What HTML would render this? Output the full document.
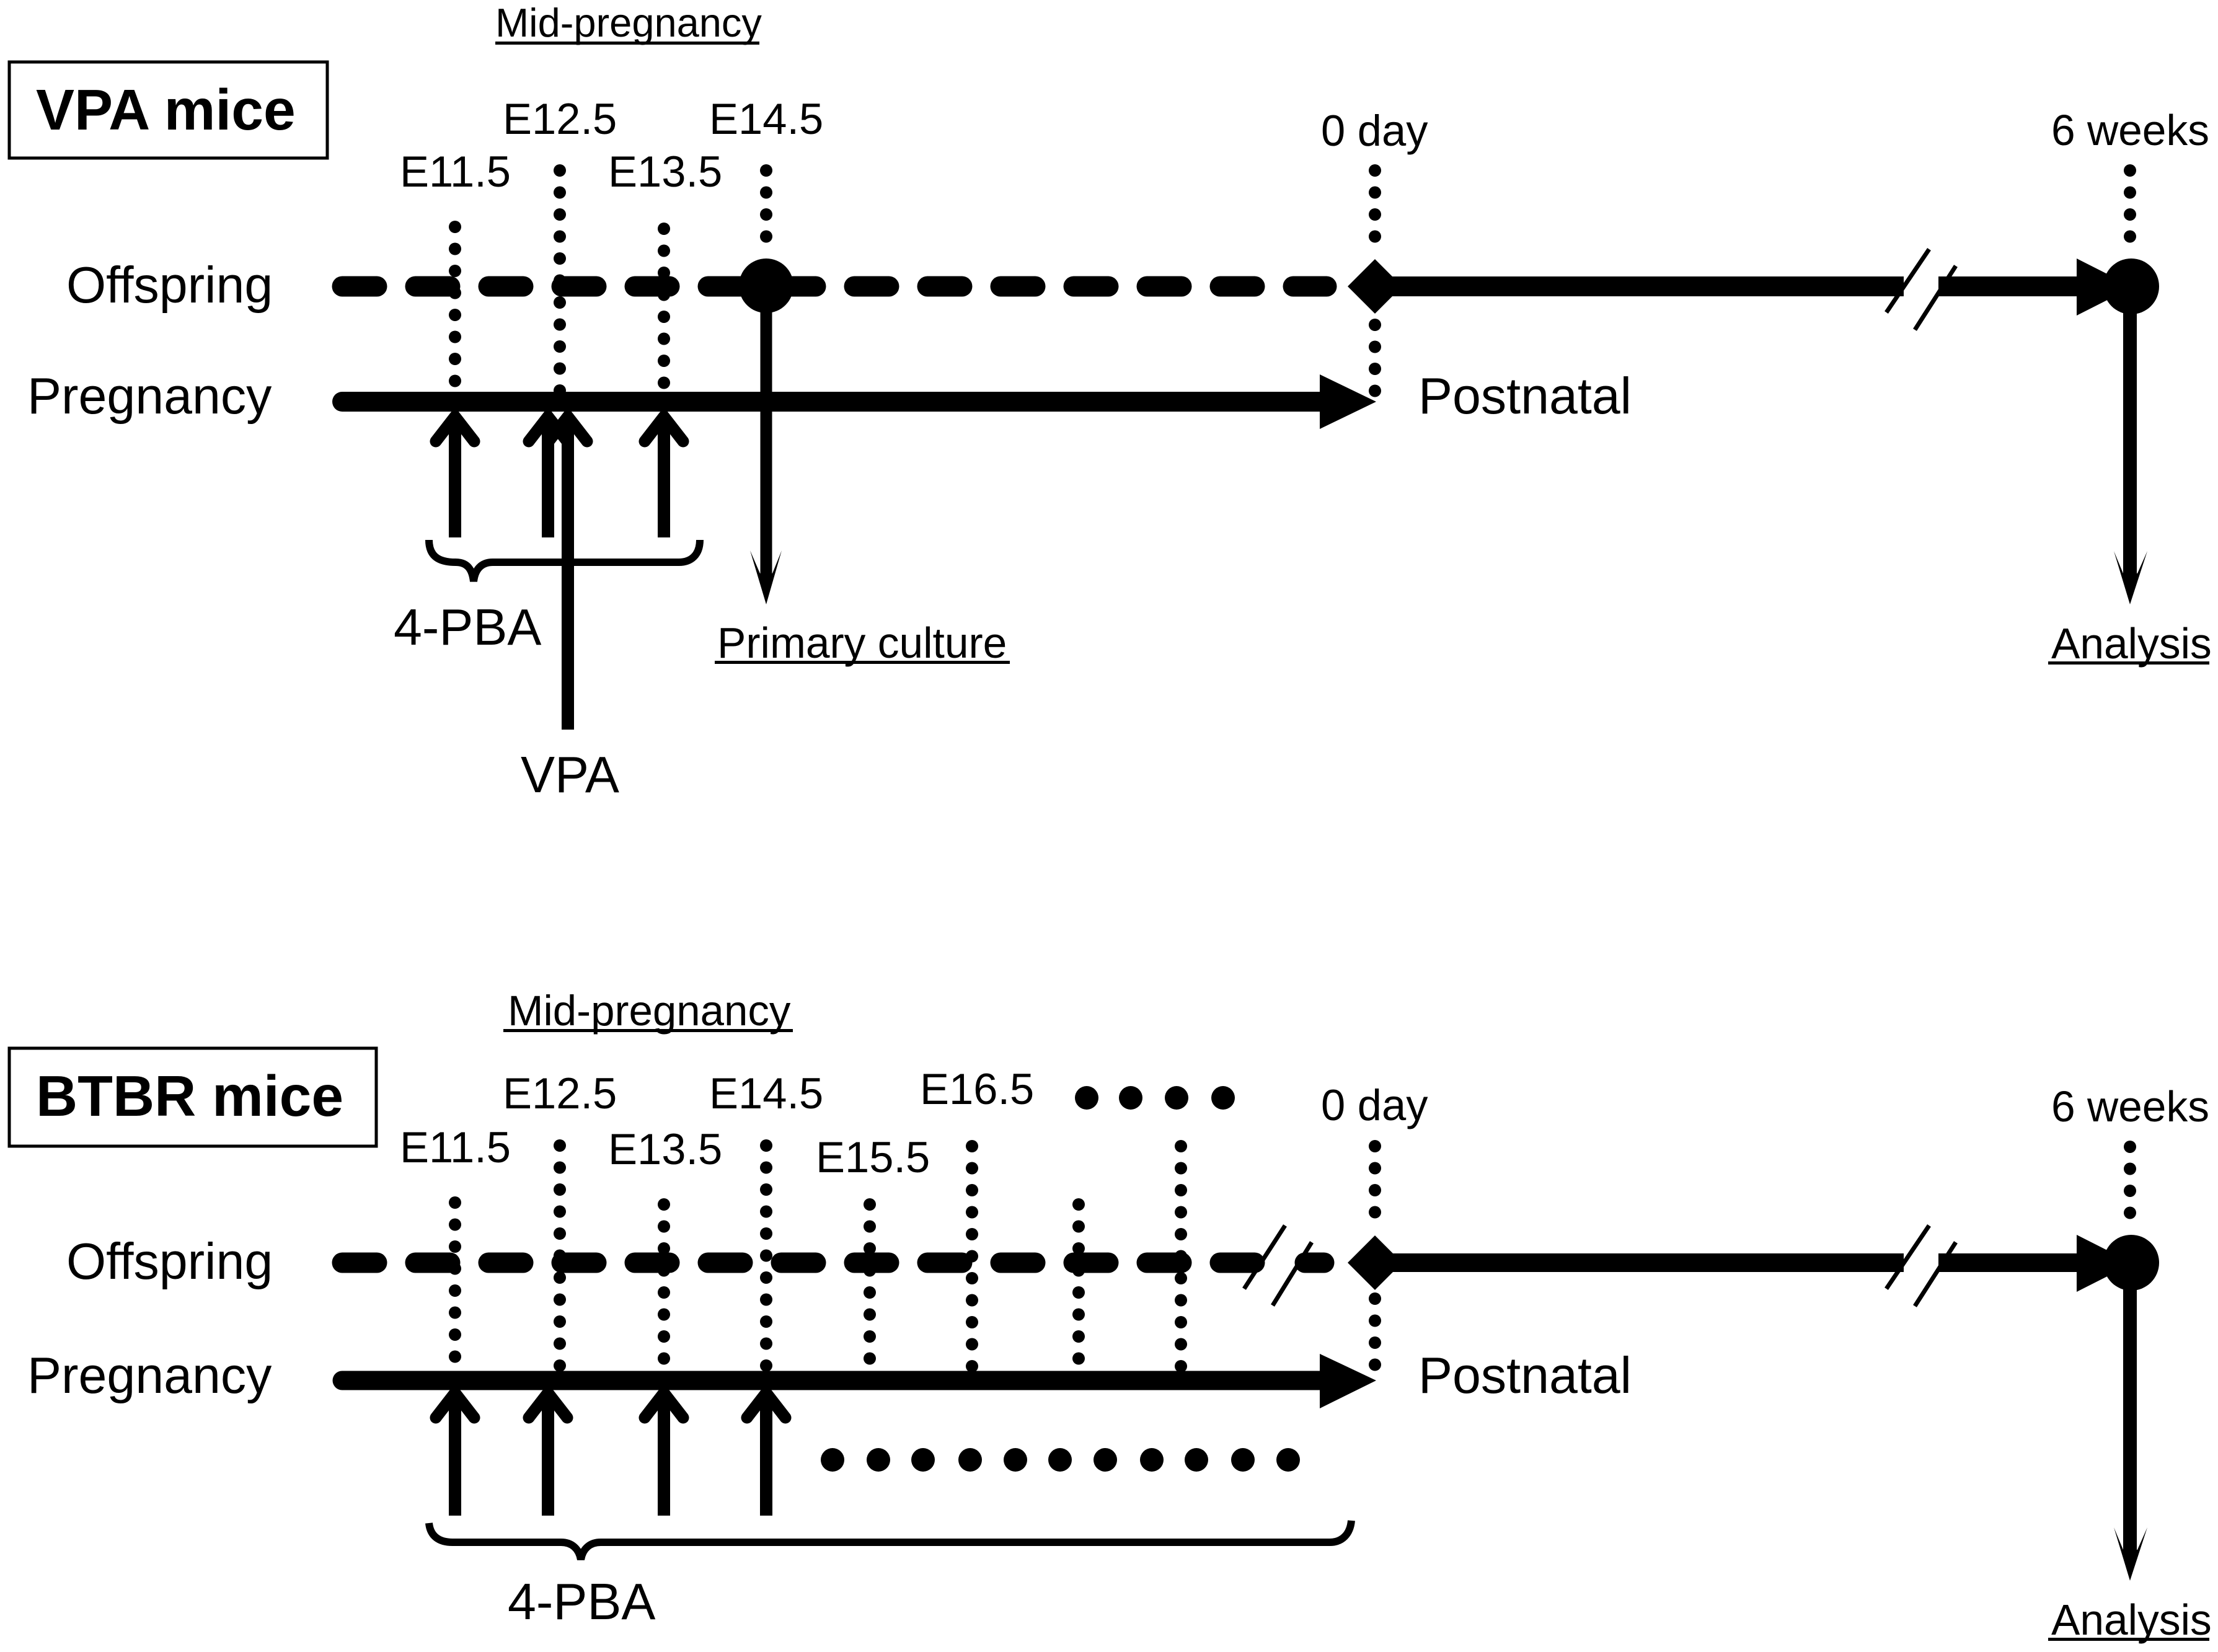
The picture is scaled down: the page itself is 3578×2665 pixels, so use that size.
<!DOCTYPE html>
<html><head><meta charset="utf-8"><style>
html,body{margin:0;padding:0;background:#fff}
svg{display:block}
text{font-family:"Liberation Sans",Arial,sans-serif;fill:#000}
.b{font-weight:bold;font-size:93px}
.m{font-size:70.5px}
.l{font-size:82.5px}
.dot{stroke:#000;stroke-width:20;stroke-linecap:round;stroke-dasharray:0 35.5;fill:none}
.dash{stroke:#000;stroke-width:33;stroke-linecap:round;fill:none}
.s{stroke:#000;fill:none}
.up{stroke:#000;stroke-width:20;fill:none}
.wing{stroke:#000;stroke-width:19;stroke-linecap:round;stroke-linejoin:miter;fill:none}
.br{stroke:#000;stroke-width:12;fill:none}
.sl{stroke:#000;stroke-width:7;fill:none}
</style></head><body>
<svg width="3578" height="2665" viewBox="0 0 3578 2665" xmlns="http://www.w3.org/2000/svg">
<rect width="3578" height="2665" fill="#fff"/>

<!-- VPA panel -->
<rect x="15" y="100" width="513" height="155" fill="none" stroke="#000" stroke-width="5"/>
<text class="b" x="58" y="209">VPA mice</text>
<text x="799" y="59" font-size="65">Mid-pregnancy</text>
<rect x="799" y="67" width="426" height="5"/>
<text class="m" x="811" y="216">E12.5</text>
<text class="m" x="1144" y="216">E14.5</text>
<text class="m" x="645" y="301">E11.5</text>
<text class="m" x="981" y="301">E13.5</text>
<text class="m" x="2131" y="235">0 day</text>
<text x="3309" y="234" font-size="69.5">6 weeks</text>
<text class="l" x="107" y="488">Offspring</text>
<text class="l" x="44" y="667">Pregnancy</text>
<text class="l" x="2288" y="667">Postnatal</text>
<text class="l" x="635" y="1040">4-PBA</text>
<text class="l" x="840" y="1278">VPA</text>
<text x="1157" y="1061" font-size="69.5">Primary culture</text>
<rect x="1153" y="1066" width="476" height="5"/>
<text x="3309" y="1062" font-size="69.5">Analysis</text>
<rect x="3304" y="1067" width="260" height="5"/>

<path class="dash" stroke-dasharray="56 62" d="M552 462H2140"/>
<path class="s" stroke-width="32" d="M2218 462H3071M3127 462H3360"/>
<path class="s" stroke-width="32" stroke-linecap="round" d="M552 648H2140"/>
<polygon points="2129,604 2220,648 2129,692"/>
<polygon points="3350,417 3441,463 3350,509"/>
<polygon points="2218,418 2262,462 2218,506 2174,462"/>
<circle cx="1236" cy="461" r="44"/>
<circle cx="3438" cy="462" r="45"/>
<path class="sl" d="M3112 402L3043 504M3155 429L3089 532"/>

<path class="dot" d="M734 366V620"/>
<path class="dot" d="M903 275V635"/>
<path class="dot" d="M1071 369V625"/>
<path class="dot" d="M1236 275V400"/>
<path class="dot" d="M2218 275V415"/>
<path class="dot" d="M2218 524V640"/>
<path class="dot" d="M3436 275V395"/>

<path class="up" d="M734 670V867M884 670V867M1071 670V867M916 670V1177"/>
<path class="wing" d="M703 712L734 672L765 712"/>
<path class="wing" d="M853 712L884 672L915 712"/>
<path class="wing" d="M885 712L916 672L947 712"/>
<path class="wing" d="M1040 712L1071 672L1102 712"/>
<path class="s" stroke-width="19" d="M1236 500V930"/>
<polygon points="1210,888 1226,925 1246,925 1261,888 1236,975"/>
<path class="s" stroke-width="22" d="M3436 500V930"/>
<polygon points="3410,889 3425,925 3448,925 3464,889 3436,975"/>
<path class="br" d="M692 871C692 895 705 907 735 907C755 907 762 920 764 938C766 920 775 907 795 907H1095C1115 907 1129 895 1129 871"/>

<!-- BTBR panel -->
<rect x="15" y="1691" width="592" height="158" fill="none" stroke="#000" stroke-width="5"/>
<text class="b" x="58" y="1800">BTBR mice</text>
<text x="819" y="1654" font-size="69">Mid-pregnancy</text>
<rect x="812" y="1660" width="467" height="5"/>
<text class="m" x="811" y="1788">E12.5</text>
<text class="m" x="1144" y="1788">E14.5</text>
<text class="m" x="645" y="1875">E11.5</text>
<text class="m" x="981" y="1878">E13.5</text>
<text class="m" x="1316" y="1891">E15.5</text>
<text class="m" x="1484" y="1781">E16.5</text>
<text class="m" x="2131" y="1807">0 day</text>
<text x="3309" y="1809" font-size="69.5">6 weeks</text>
<text class="l" x="107" y="2063">Offspring</text>
<text class="l" x="44" y="2247">Pregnancy</text>
<text class="l" x="2288" y="2247">Postnatal</text>
<text class="l" x="819" y="2612">4-PBA</text>
<text x="3309" y="2637" font-size="69.5">Analysis</text>
<rect x="3304" y="2642" width="260" height="5"/>

<path class="dash" stroke-dasharray="56 62" d="M552 2037H2025"/>
<path class="dash" d="M2105 2037H2136"/>
<path class="s" stroke-width="30" d="M2218 2037H3071M3127 2037H3360"/>
<path class="s" stroke-width="31" stroke-linecap="round" d="M552 2227H2140"/>
<polygon points="2129,2184 2220,2227 2129,2272"/>
<polygon points="3350,1992 3441,2038 3350,2084"/>
<polygon points="2218,1993 2262,2037 2218,2081 2174,2037"/>
<circle cx="3438" cy="2037" r="45"/>
<path class="sl" d="M3112 1977L3043 2079M3155 2004L3089 2107"/>
<path class="sl" d="M2073 1977L2007 2079M2116 2004L2053 2106"/>

<path class="dot" d="M734 1940V2195"/>
<path class="dot" d="M903 1848V2210"/>
<path class="dot" d="M1071 1943V2200"/>
<path class="dot" d="M1236 1848V2210"/>
<path class="dot" d="M1403 1943V2200"/>
<path class="dot" d="M1568 1849V2210"/>
<path class="dot" d="M1740 1943V2200"/>
<path class="dot" d="M1905 1849V2210"/>
<path class="dot" d="M2218 1849V1990"/>
<path class="dot" d="M2218 2095V2210"/>
<path class="dot" d="M3436 1850V1970"/>

<path class="up" d="M734 2245V2445M884 2245V2445M1071 2245V2445M1236 2245V2445"/>
<path class="wing" d="M703 2287L734 2247L765 2287"/>
<path class="wing" d="M853 2287L884 2247L915 2287"/>
<path class="wing" d="M1040 2287L1071 2247L1102 2287"/>
<path class="wing" d="M1205 2287L1236 2247L1267 2287"/>
<path class="s" stroke-width="22" d="M3436 2070V2505"/>
<polygon points="3410,2464 3425,2500 3448,2500 3464,2464 3436,2550"/>
<path class="br" d="M692 2457C694 2478 708 2488 730 2488H905C922 2488 934 2498 937 2516C940 2498 952 2488 969 2488H2145C2165 2488 2178 2475 2180 2453"/>

<g>
<circle cx="1753" cy="1771" r="19"/><circle cx="1824" cy="1771" r="19"/><circle cx="1898" cy="1771" r="19"/><circle cx="1973" cy="1771" r="19"/>
<circle cx="1343" cy="2355" r="19"/><circle cx="1417" cy="2355" r="19"/><circle cx="1489" cy="2355" r="19"/><circle cx="1565" cy="2355" r="19"/><circle cx="1638" cy="2355" r="19"/><circle cx="1710" cy="2355" r="19"/><circle cx="1783" cy="2355" r="19"/><circle cx="1858" cy="2355" r="19"/><circle cx="1930" cy="2355" r="19"/><circle cx="2005" cy="2355" r="19"/><circle cx="2078" cy="2355" r="19"/>
</g>
</svg>
</body></html>
